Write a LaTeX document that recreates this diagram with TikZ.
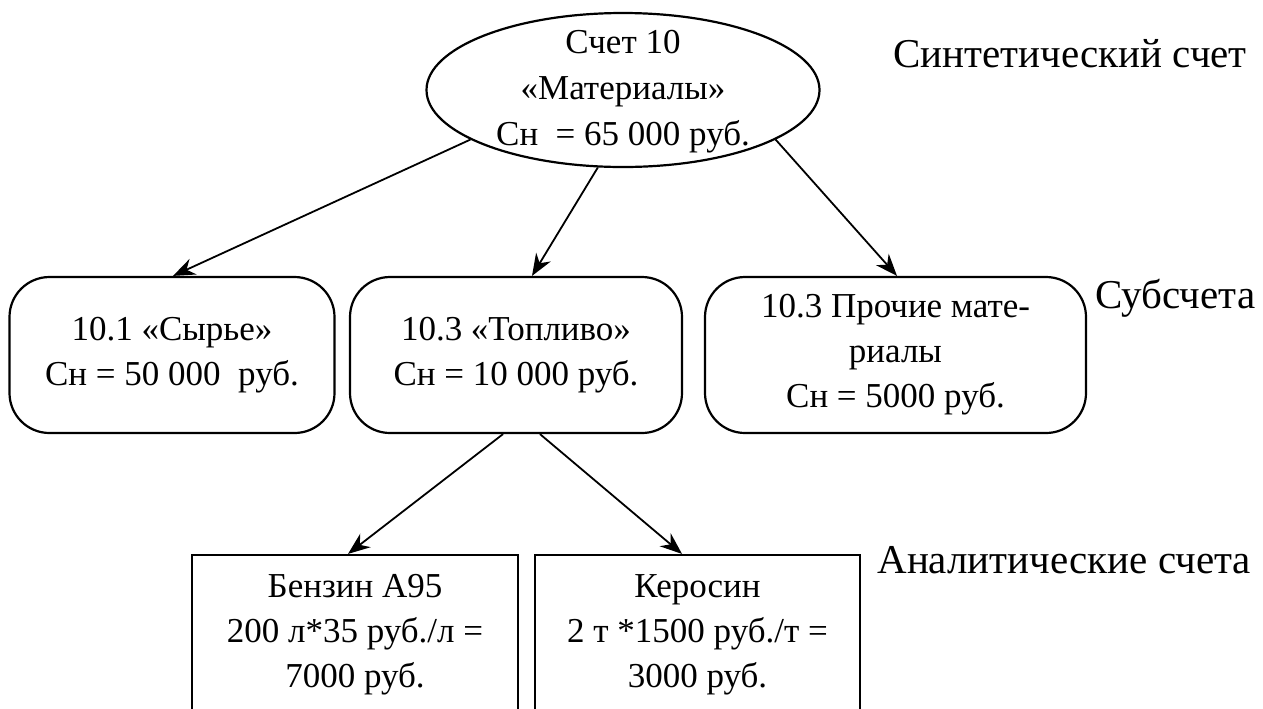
\documentclass[tikz,border=0pt]{standalone}
\usepackage{fontspec}
\setmainfont{Liberation Serif}
\usetikzlibrary{arrows.meta,calc,shapes.geometric}

\tikzset{
  subacct/.style={draw, line width=1.1pt, rounded corners=20pt, minimum height=78pt, inner sep=0pt, align=center, font=\fontsize{17.5}{22.5}\selectfont},
  analacct/.style={draw, line width=1.1pt, minimum height=80pt, inner sep=0pt, align=center, font=\fontsize{17.5}{22.5}\selectfont},
  levellbl/.style={anchor=base west, inner sep=0pt, font=\fontsize{20.5}{24}\selectfont},
  link/.style={line width=0.9pt, -{Stealth[length=11pt, width=8.5pt]}}
}

\begin{document}
\begin{tikzpicture}[x=0.5pt,y=0.5pt,yscale=-1,xscale=1]
\useasboundingbox (0,0) rectangle (1263,708);
\clip (0,0) rectangle (1263,708);

%Ellipse
\node [draw, ellipse, line width=1.1pt, minimum width=196.5pt, minimum height=77pt, inner sep=0pt] (main) at (623,90) {};
% Text Node
\node [inner sep=0pt, align=center, font=\fontsize{17.5}{23}\selectfont] (mainlbl) at (623,92) {Счет 10\\«Материалы»\\Сн~~= 65 000 руб.};

%Rounded Rect
\node [subacct, minimum width=162.5pt] (syrye) at (172,355) {10.1 «Сырье»\\Сн = 50 000~~руб.};
%Rounded Rect
\node [subacct, minimum width=166pt] (toplivo) at (516,355) {10.3 «Топливо»\\Сн = 10 000 руб.};
%Rounded Rect
\node [subacct, minimum width=190.5pt] (prochie) at (895.5,355) {10.3 Прочие мате-\\риалы\\Сн = 5000 руб.};

%Shape: Rectangle
\node [analacct, minimum width=163pt] (benzin) at (355,635) {Бензин А95\\200 л*35 руб./л =\\7000 руб.};
%Shape: Rectangle
\node [analacct, minimum width=162.5pt] (kerosin) at (697.5,635) {Керосин\\2 т *1500 руб./т =\\3000 руб.};

%Straight Lines
\draw [link] (main.198.4) -- ($(syrye.north)+(1,0)$);
\draw [link] (main.252.6) -- ($(toplivo.north)+(16,0)$);
\draw [link] (main.342.1) -- ($(prochie.north)+(1.5,0)$);
\draw [link] ($(toplivo.south)+(-13,0)$) -- ($(benzin.north)+(-7,0)$);
\draw [link] ($(toplivo.south)+(24,0)$) -- ($(kerosin.north)+(-15.5,0)$);

% Text Node
\node [levellbl] (synth) at (893,67) {Синтетический счет};
% Text Node
\node [levellbl] (sub) at (1095,308) {Субсчета};
% Text Node
\node [levellbl] (anal) at (877,573) {Аналитические счета};

\end{tikzpicture}
\end{document}
